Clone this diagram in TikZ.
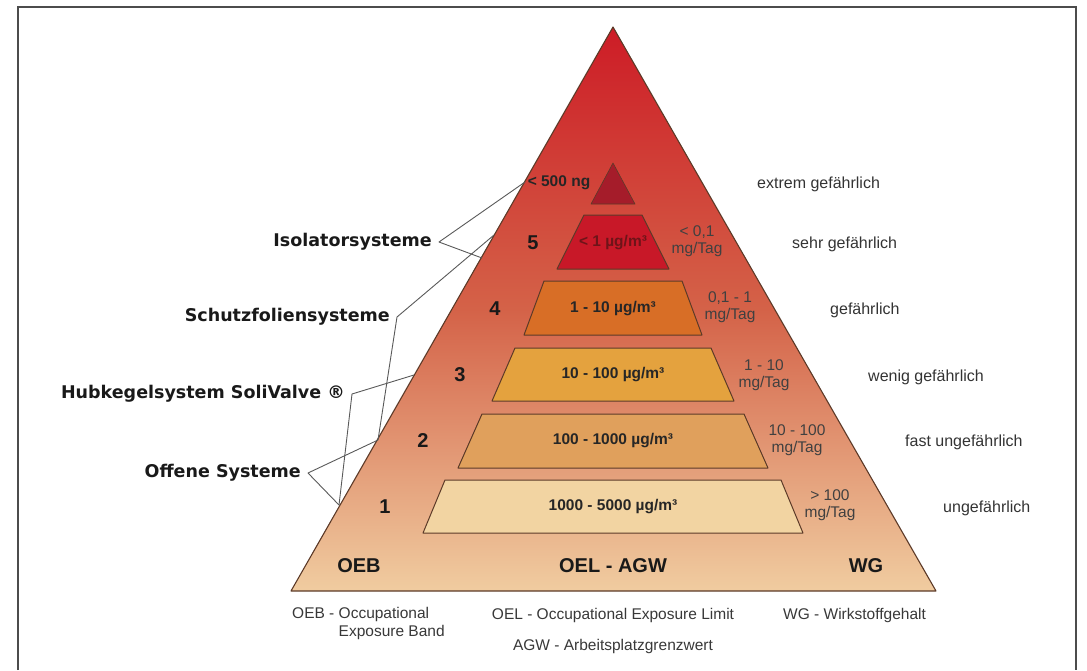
\documentclass[tikz,border=0pt]{standalone}
\usepackage{fontspec}
\setmainfont{Liberation Sans}
\newfontfamily\heavyfont{DejaVu Sans}
\usetikzlibrary{positioning}

\definecolor{pyrtop}{RGB}{205,28,38}
\definecolor{pyrmid}{RGB}{212,98,72}
\definecolor{pyrbot}{RGB}{240,204,160}
\definecolor{edgebrown}{RGB}{92,58,40}
\definecolor{tipred}{RGB}{165,28,42}
\definecolor{bandfive}{RGB}{200,24,40}
\definecolor{bandfour}{RGB}{216,110,38}
\definecolor{bandthree}{RGB}{228,162,62}
\definecolor{bandtwo}{RGB}{224,160,92}
\definecolor{bandone}{RGB}{242,212,162}
\definecolor{darkwine}{RGB}{110,20,25}

\begin{document}
\begin{tikzpicture}[
    x=1pt, y=-1pt,
    pyramid/.style={
        draw=edgebrown,
        line width=1.1pt,
        line join=round
    },
    band/.style={
        draw=edgebrown,
        line width=1pt,
        line join=round
    },
    bandtext/.style={
        font=\bfseries\fontsize{15.5}{17}\selectfont,
        text=black!85
    },
    level/.style={
        font=\bfseries\fontsize{20}{22}\selectfont,
        text=black!90
    },
    dose/.style={
        font=\fontsize{15.5}{17.5}\selectfont,
        align=center,
        inner sep=0pt,
        text=black!75
    },
    hazard/.style={
        font=\fontsize{16}{18}\selectfont,
        anchor=west,
        inner sep=0pt,
        text=black!80
    },
    system/.style={
        font=\heavyfont\bfseries\fontsize{17.5}{19}\selectfont,
        anchor=east,
        inner sep=0pt,
        text=black!90
    },
    limit/.style={
        font=\bfseries\fontsize{20}{22}\selectfont,
        text=black!90
    },
    legend/.style={
        font=\fontsize{15.5}{18.5}\selectfont,
        inner sep=0pt,
        text=black!78
    },
    pointer/.style={
        draw=black!65,
        line width=0.9pt,
        line join=round
    }
]

    % --- Canvas and frame ---
    \useasboundingbox (0,0) rectangle (1087,670);
    \draw[line width=2pt, draw=black!70] (18,670) -- (18,7) -- (1076,7) -- (1076,670);

    % --- Pyramid ---
    \coordinate (apex) at (613,27);
    \coordinate (baseL) at (291,591);
    \coordinate (baseR) at (936,591);
    \shade[top color=pyrtop, bottom color=pyrbot, middle color=pyrmid] (apex) -- (baseL) -- (baseR) -- cycle;
    \draw[pyramid] (apex) -- (baseL) -- (baseR) -- cycle;

    % --- Bands (bottom to top) ---
    \draw[band, fill=bandone] (423,533) -- (445,480) -- (781,480) -- (803,533) -- cycle;
    \draw[band, fill=bandtwo] (458,468) -- (482,414) -- (744,414) -- (768,468) -- cycle;
    \draw[band, fill=bandthree] (492,401) -- (515,348) -- (711,348) -- (734,401) -- cycle;
    \draw[band, fill=bandfour] (524,335) -- (544,281) -- (682,281) -- (702,335) -- cycle;
    \draw[band, fill=bandfive] (557,269) -- (584,215) -- (642,215) -- (669,269) -- cycle;
    \draw[band, line width=0.6pt, fill=tipred] (613,163) -- (591,204) -- (635,204) -- cycle;

    % --- Band labels ---
    \node[bandtext] (b1) at (613,507) {1000 - 5000 µg/m³};
    \node[bandtext] (b2) at (613,441) {100 - 1000 µg/m³};
    \node[bandtext] (b3) at (613,375) {10 - 100 µg/m³};
    \node[bandtext] (b4) at (613,309) {1 - 10 µg/m³};
    \node[bandtext, text=darkwine] (b5) at (613,243) {< 1 µg/m³};
    \node[bandtext] (tip) at (559,183) {< 500 ng};

    % --- Levels ---
    \node[level] (lv1) at (385,507) {1};
    \node[level] (lv2) at (423,441) {2};
    \node[level] (lv3) at (460,375) {3};
    \node[level] (lv4) at (495,309) {4};
    \node[level] (lv5) at (533,243) {5};

    % --- Daily doses ---
    \node[dose] (d1) at (830,505) {> 100\\mg/Tag};
    \node[dose] (d2) at (797,440) {10 - 100\\mg/Tag};
    \node[dose] (d3) at (764,375) {1 - 10\\mg/Tag};
    \node[dose] (d4) at (730,307) {0,1 - 1\\mg/Tag};
    \node[dose] (d5) at (697,241) {< 0,1\\mg/Tag};

    % --- Hazard classes ---
    \node[hazard] (h0) at (757,184) {extrem gefährlich};
    \node[hazard] (h5) at (792,244) {sehr gefährlich};
    \node[hazard] (h4) at (830,310) {gefährlich};
    \node[hazard] (h3) at (868,377) {wenig gefährlich};
    \node[hazard] (h2) at (905,442) {fast ungefährlich};
    \node[hazard] (h1) at (943,508) {ungefährlich};

    % --- Base row ---
    \node[limit] (oeb) at (359,566) {OEB};
    \node[limit] (oel) at (613,566) {OEL - AGW};
    \node[limit] (wg) at (866,566) {WG};

    % --- Legend ---
    \node[legend, align=left, anchor=north west] (oebkey) at (292,607) {OEB - Occupational\\\phantom{OEB - }Exposure Band};
    \node[legend] (oelkey) at (613,615) {OEL - Occupational Exposure Limit};
    \node[legend, below=17pt of oelkey] (agwkey) {AGW - Arbeitsplatzgrenzwert};
    \node[legend, anchor=west] (wgkey) at (783,615) {WG - Wirkstoffgehalt};

    % --- Containment systems ---
    \node[system] (iso) at (432,242) {Isolatorsysteme};
    \node[system] (folie) at (390,317) {Schutzfoliensysteme};
    \node[system] (hub) at (345,394) {Hubkegelsystem SoliValve ®};
    \node[system] (offen) at (301,473) {Offene Systeme};

    % points on the left edge
    \coordinate (e182) at (525,182);
    \coordinate (e235) at (494,235);
    \coordinate (e258) at (482,258);
    \coordinate (e375) at (414,375);
    \coordinate (e440) at (378,440);
    \coordinate (e505) at (339,505);

    \draw[pointer] (e182) -- ([xshift=7pt]iso.east) -- (e258);
    \draw[pointer] (e235) -- ([xshift=7pt]folie.east) -- (e440);
    \draw[pointer] (e375) -- ([xshift=7pt]hub.east) -- (e505);
    \draw[pointer] (e440) -- ([xshift=7pt]offen.east) -- (e505);

\end{tikzpicture}
\end{document}
